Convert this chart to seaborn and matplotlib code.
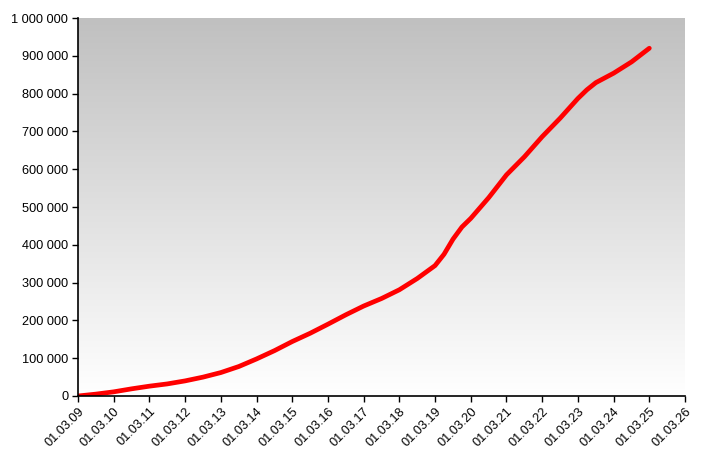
import numpy as np
import pandas as pd
import matplotlib
matplotlib.use("Agg")
import matplotlib.pyplot as plt
import matplotlib.dates as mdates
import matplotlib.ticker as mticker
import seaborn as sns

# values
dates = ["2009-03-01", "2009-09-01", "2010-03-01", "2010-09-01", "2011-03-01",
         "2011-09-01", "2012-03-01", "2012-09-01", "2013-03-01", "2013-09-01",
         "2014-03-01", "2014-09-01", "2015-03-01", "2015-09-01", "2016-03-01",
         "2016-09-01", "2017-03-01", "2017-09-01", "2018-03-01", "2018-09-01",
         "2019-03-01", "2019-06-01", "2019-09-01", "2019-12-01", "2020-03-01",
         "2020-09-01", "2021-03-01", "2021-09-01", "2022-03-01", "2022-09-01",
         "2023-03-01", "2023-06-01", "2023-09-01", "2024-03-01", "2024-09-01",
         "2025-03-01"]
values = [0, 5000, 11000, 19000, 26000,
          32000, 40000, 50000, 62000, 78000,
          98000, 120000, 144000, 166000, 190000,
          215000, 238000, 258000, 281000, 311000,
          345000, 375000, 415000, 447000, 470000,
          525000, 585000, 633000, 686000, 735000,
          787000, 810000, 829000, 854000, 884000,
          920000]

df = pd.DataFrame({"date": pd.to_datetime(dates), "value": values})

sns.set_style("white")
plt.rcParams["font.family"] = ["Liberation Sans", "DejaVu Sans"]

fig = plt.figure(figsize=(7.1, 4.76), dpi=100)
ax = fig.add_axes([78 / 710, 1 - 396 / 476, (685 - 78) / 710, (396 - 18) / 476])

# grey-to-white gradient background
grad = np.linspace(0, 1, 256).reshape(-1, 1)
cmap = matplotlib.colors.LinearSegmentedColormap.from_list("bg", ["#c0c0c0", "#ffffff"])
ax.imshow(grad, cmap=cmap, aspect="auto", extent=[0, 1, 0, 1], transform=ax.transAxes,
          zorder=0, origin="upper")

sns.lineplot(data=df, x="date", y="value", color="#ff0000", linewidth=3.4, ax=ax,
             zorder=3, solid_capstyle="round", solid_joinstyle="round")

ax.set_xlim(pd.Timestamp("2009-03-01"), pd.Timestamp("2026-03-01"))
ax.set_ylim(0, 1000000)
ax.xaxis.set_major_locator(mdates.YearLocator(base=1, month=3, day=1))
ax.xaxis.set_major_formatter(mdates.DateFormatter("%d.%m.%y"))
ax.yaxis.set_major_locator(mticker.MultipleLocator(100000))
ax.yaxis.set_major_formatter(mticker.FuncFormatter(lambda v, p: f"{int(v):,}".replace(",", " ")))

ax.set_xlabel("")
ax.set_ylabel("")
for s in ["top", "right"]:
    ax.spines[s].set_visible(False)
for s in ["left", "bottom"]:
    ax.spines[s].set_color("black")
    ax.spines[s].set_linewidth(1.2)
    ax.spines[s].set_zorder(4)

ax.tick_params(axis="both", direction="out", length=4, width=1, color="black",
               labelsize=9.2, labelcolor="black", left=True, bottom=True, pad=3)
for lbl in ax.get_xticklabels():
    lbl.set_rotation(45)
    lbl.set_ha("right")
    lbl.set_rotation_mode("anchor")

fig.savefig("out.png", dpi=100)
